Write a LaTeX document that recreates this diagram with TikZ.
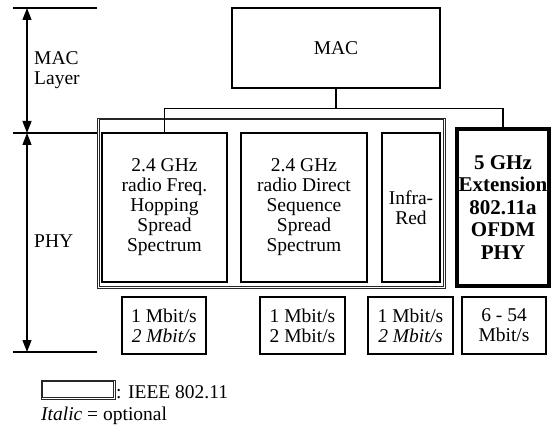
\documentclass[tikz,border=0pt]{standalone}
\usepackage{fontspec}
\setmainfont{Liberation Serif}
\usetikzlibrary{arrows.meta, positioning}
\tikzset{
    txt/.style={font=\fontsize{19.5}{20}\selectfont, align=center, inner sep=0pt},
    layerbox/.style={rectangle, draw=black, line width=1.2pt, txt},
    phybox/.style={rectangle, draw=black, line width=1.7pt, txt},
    extbox/.style={rectangle, draw=black, line width=4pt, align=center, inner sep=0pt,
                   font=\fontsize{21}{22.5}\selectfont\bfseries},
    ratebox/.style={rectangle, draw=black, line width=1.6pt, txt, minimum height=57pt},
    ieeeframe/.style={rectangle, draw=black!85, line width=0.7pt},
    ieeeinner/.style={draw=black!85, line width=0.7pt},
    link/.style={draw=black, line width=1.5pt},
    dimline/.style={{Triangle[length=12pt,width=9pt]}-{Triangle[length=12pt,width=9pt]}, line width=1.3pt},
    tick/.style={draw=black, line width=1.3pt},
    sidelbl/.style={txt, align=left, anchor=west},
}
\begin{document}
\begin{tikzpicture}[x=1pt, y=-1pt]
    \useasboundingbox (0,0) rectangle (553,430);
    \node[ieeeframe, minimum width=348pt, minimum height=170pt] (ieee) at (271,203) {};
    \draw[ieeeinner] ([shift={(2.2,2.2)}]ieee.north west) rectangle ([shift={(-2.2,-2.2)}]ieee.south east);
    \node[layerbox, minimum width=208pt, minimum height=80pt] (mac) at (336,48) {MAC};
    \node[phybox, minimum width=125pt, minimum height=149pt] (fh) at (164.5,207.5)
        {2.4 GHz\\radio Freq.\\Hopping\\Spread\\Spectrum};
    \node[phybox, minimum width=126pt, minimum height=149pt] (ds) at (304,207.5)
        {2.4 GHz\\radio Direct\\Sequence\\Spread\\Spectrum};
    \node[phybox, minimum width=58pt, minimum height=149pt] (ir) at (411,207.5)
        {Infra-\\Red};
    \node[extbox, minimum width=92pt, minimum height=157pt] (ofdm) at (503,207.5)
        {5 GHz\\Extension\\802.11a\\OFDM\\PHY};
    \node[ratebox, minimum width=84pt] (rfh) at (164,325.5) {1 Mbit/s\\\textit{2 Mbit/s}};
    \node[ratebox, minimum width=85pt] (rds) at (302.5,325.5) {1 Mbit/s\\2 Mbit/s};
    \node[ratebox, minimum width=85pt] (rir) at (410.5,325.5) {1 Mbit/s\\\textit{2 Mbit/s}};
    \node[ratebox, minimum width=84pt] (rofdm) at (504,325.5) {6 - 54\\Mbit/s};
    \draw[link] (mac.south) -- ++(0,20) coordinate (bus);
    \draw[link] (fh.north) |- (bus) -| (ofdm.north);
    % layer scale on the left
    \coordinate (topl) at (13,8);
    \coordinate (midl) at (13,133);
    \coordinate (botl) at (13,352);
    \draw[tick] (topl) -- ++(84,0);
    \draw[tick] (midl) -- (ieee.west |- midl);
    \draw[tick] (botl) -- ++(84,0);
    \draw[dimline] ([xshift=14pt]topl) -- ([xshift=14pt]midl);
    \draw[dimline] ([xshift=14pt]midl) -- ([xshift=14pt]botl);
    \node[sidelbl] (maclbl) at (34,70) {MAC\\Layer};
    \node[sidelbl] (phylbl) at (34,241) {PHY};
    % legend
    \node[ieeeframe, minimum width=74pt, minimum height=19pt] (legbox) at (78,389.5) {};
    \draw[ieeeinner] ([shift={(1.8,1.8)}]legbox.north west) rectangle ([shift={(-1.8,-1.8)}]legbox.south east);
    \node[txt, anchor=base west] (legtxt) at (116,398) {: IEEE 802.11};
    \node[txt, anchor=base west] (legital) at (41,420) {\textit{Italic} = optional};
\end{tikzpicture}
\end{document}
